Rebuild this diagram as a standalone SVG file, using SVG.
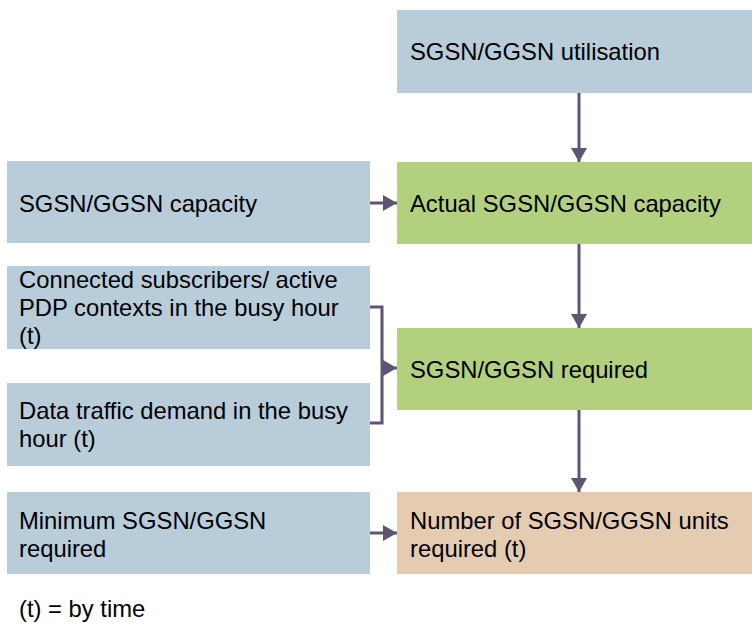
<svg xmlns="http://www.w3.org/2000/svg" width="752" height="625" viewBox="0 0 752 625">
<style>
.b{fill:#B8CCDA}.g{fill:#B3D07F}.t{fill:#E5CBB0}
text{font-family:"Liberation Sans",Arial,sans-serif;font-size:23.8px;fill:#000}
.c{stroke:#5F5471;stroke-width:3;fill:none}
</style>
<defs>
<marker id="ah" viewBox="0 0 14 16" refX="14" refY="8" markerWidth="14" markerHeight="16" markerUnits="userSpaceOnUse" orient="auto">
<path d="M0,0 L14,8 L0,16 Z" fill="#5F5471"/>
</marker>
</defs>
<rect width="752" height="625" fill="#fff"/>
<g id="n-util"><rect class="b" x="397" y="10" width="355" height="83"/><text x="410" y="60">SGSN/GGSN utilisation</text></g>
<g id="n-cap"><rect class="b" x="7" y="161" width="363" height="82"/><text x="19" y="212">SGSN/GGSN capacity</text></g>
<g id="n-actual"><rect class="g" x="397" y="162" width="355" height="82"/><text x="410" y="212">Actual SGSN/GGSN capacity</text></g>
<g id="n-conn"><rect class="b" x="7" y="266" width="363" height="83"/><text x="19" y="288">Connected subscribers/ active</text><text x="19" y="316">PDP contexts in the busy hour</text><text x="19" y="344">(t)</text></g>
<g id="n-req"><rect class="g" x="397" y="328" width="355" height="82"/><text x="410" y="378">SGSN/GGSN required</text></g>
<g id="n-data"><rect class="b" x="7" y="383" width="363" height="83"/><text x="19" y="419">Data traffic demand in the busy</text><text x="19" y="447">hour (t)</text></g>
<g id="n-min"><rect class="b" x="7" y="492" width="363" height="82"/><text x="19" y="529">Minimum SGSN/GGSN</text><text x="19" y="557">required</text></g>
<g id="n-units"><rect class="t" x="397" y="492" width="355" height="82"/><text x="410" y="529">Number of SGSN/GGSN units</text><text x="410" y="557">required (t)</text></g>
<g id="connectors">
<line class="c" x1="579" y1="93" x2="579" y2="162" marker-end="url(#ah)"/>
<line class="c" x1="370" y1="203" x2="397" y2="203" marker-end="url(#ah)"/>
<line class="c" x1="579" y1="244" x2="579" y2="328" marker-end="url(#ah)"/>
<polyline class="c" points="370,307 382,307 382,423 370,423"/>
<line class="c" x1="382" y1="368" x2="397" y2="368" marker-end="url(#ah)"/>
<line class="c" x1="579" y1="410" x2="579" y2="492" marker-end="url(#ah)"/>
<line class="c" x1="370" y1="533" x2="397" y2="533" marker-end="url(#ah)"/>
</g>
<text x="19" y="617">(t) = by time</text>
</svg>
